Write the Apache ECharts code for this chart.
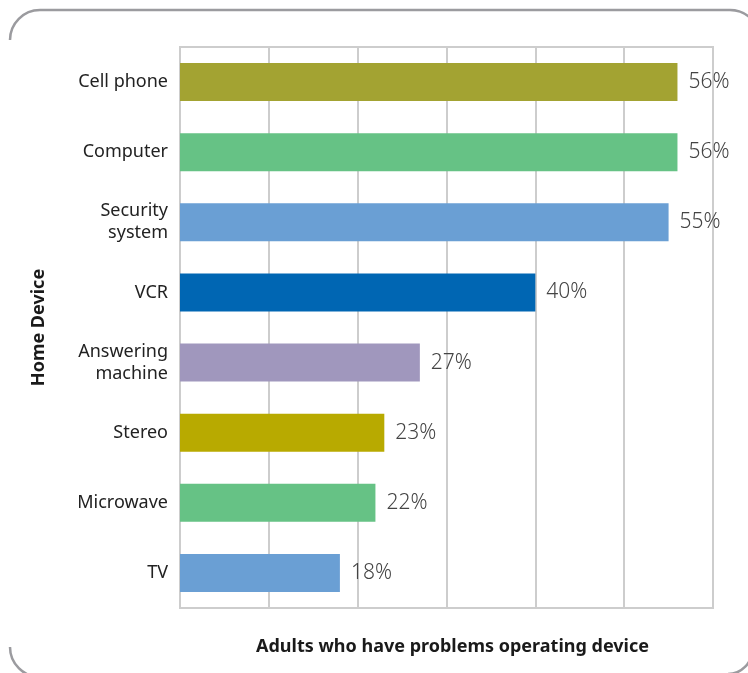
<!DOCTYPE html>
<html><head><meta charset="utf-8">
<script src="https://cdn.jsdelivr.net/npm/echarts@6/dist/echarts.min.js"></script>
<style>html,body{margin:0;padding:0;background:#fff}#c{width:748px;height:673px}</style>
</head><body><div id="c"></div>
<script>
const categories = ["Cell phone","Computer","Security\nsystem","VCR","Answering\nmachine","Stereo","Microwave","TV"];
const values = [56,56,55,40,27,23,22,18];
const xTicks = [0,10,20,30,40,50,60];

const barColors = ["#A3A332","#66C285","#6A9FD4","#0066B3","#A097BD","#B8AA00","#66C285","#6A9FD4"];
const frameColor = "#9B9B9F";
const font = "'Noto Sans', 'Open Sans', sans-serif";

const chart = echarts.init(document.getElementById('c'), null, {renderer:'canvas'});
chart.setOption({
  animation:false,
  backgroundColor:'#fff',
  grid:{left:180,right:35,top:47,bottom:65,show:true,borderColor:'#CDCDCD',borderWidth:2,containLabel:false},
  xAxis:{type:'value',min:xTicks[0],max:xTicks[xTicks.length-1],interval:10,
    axisLabel:{show:false},axisTick:{show:false},
    axisLine:{show:true,lineStyle:{color:'#CDCDCD',width:2}},
    splitLine:{show:true,lineStyle:{color:'#CDCDCD',width:2}},
    name:'Adults who have problems operating device',nameLocation:'middle',nameGap:30,
    nameTextStyle:{fontFamily:font,fontSize:18,fontWeight:'bold',color:'#1a1a1a',padding:[0,0,0,12]}},
  yAxis:{type:'category',data:categories,inverse:true,
    axisTick:{show:false},axisLine:{show:true,lineStyle:{color:'#CDCDCD',width:2}},
    axisLabel:{fontFamily:font,fontSize:18,color:'#222',margin:12,lineHeight:22},
    name:'Home Device',nameLocation:'middle',nameGap:132,
    nameTextStyle:{fontFamily:font,fontSize:18,fontWeight:'bold',color:'#1a1a1a'}},
  series:[{type:'bar',barWidth:38,
    data:values.map((v,i)=>({value:v,itemStyle:{color:barColors[i]}})),
    label:{show:true,position:'right',distance:11,formatter:'{c}%',fontFamily:font,fontSize:21,color:'#444',fontWeight:300}}],
  graphic:[
    {type:'arc',shape:{cx:40,cy:40,r:30,startAngle:Math.PI,endAngle:Math.PI*1.5},style:{stroke:frameColor,lineWidth:2.5,fill:null}},
    {type:'line',shape:{x1:40,y1:10,x2:730,y2:10},style:{stroke:frameColor,lineWidth:2.5}},
    {type:'arc',shape:{cx:730,cy:40,r:30,startAngle:Math.PI*1.5,endAngle:Math.PI*2},style:{stroke:frameColor,lineWidth:2.5,fill:null}},
    {type:'arc',shape:{cx:40,cy:647,r:30,startAngle:Math.PI*0.5,endAngle:Math.PI},style:{stroke:frameColor,lineWidth:2.5,fill:null}},
    {type:'arc',shape:{cx:728,cy:650,r:24,startAngle:0,endAngle:Math.PI*0.5},style:{stroke:frameColor,lineWidth:2.5,fill:null}}
  ]
});
</script></body></html>
